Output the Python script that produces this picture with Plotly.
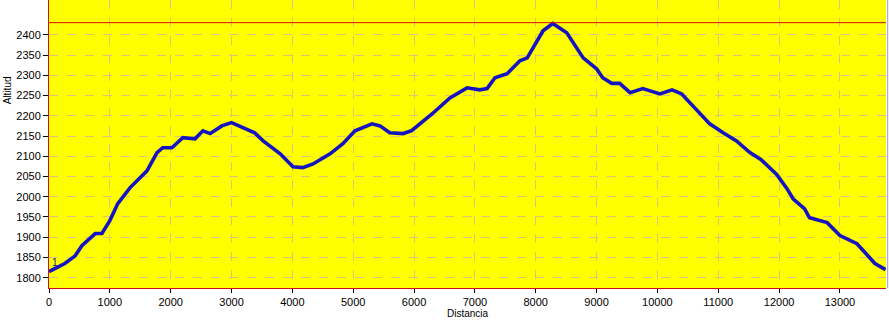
import plotly.graph_objects as go

distancia = [0, 260, 430, 540, 760, 870, 1000, 1130, 1330, 1500, 1610, 1775, 1870, 2020,
             2200, 2400, 2530, 2650, 2840, 3000, 3380, 3520, 3800, 4010, 4170, 4340, 4620,
             4830, 5030, 5310, 5440, 5600, 5820, 5960, 6300, 6590, 6870, 7080, 7200, 7330,
             7530, 7740, 7860, 8120, 8280, 8510, 8780, 9000, 9100, 9250, 9380, 9550, 9760,
             10040, 10240, 10400, 10650, 10860, 11080, 11300, 11520, 11700, 11960, 12130,
             12230, 12420, 12500, 12790, 13000, 13280, 13575, 13750]
altitud = [1815, 1835, 1854, 1879, 1909, 1909, 1941, 1983, 2022, 2047, 2064, 2109, 2121, 2121,
           2146, 2143, 2163, 2156, 2175, 2183, 2158, 2138, 2106, 2074, 2072, 2081, 2106,
           2131, 2163, 2180, 2175, 2158, 2156, 2163, 2205, 2244, 2269, 2264, 2267, 2294,
           2304, 2336, 2343, 2410, 2428, 2405, 2343, 2316, 2294, 2280, 2280, 2257, 2267,
           2254, 2264, 2254, 2212, 2180, 2158, 2138, 2109, 2092, 2055, 2020,
           1995, 1970, 1948, 1936, 1904, 1884, 1835, 1820]
x_ticks = list(range(0, 14000, 1000))
x_labels = [str(v) for v in x_ticks]
y_ticks = list(range(1800, 2450, 50))
y_labels = [str(v) for v in y_ticks]

grid_col = "rgb(218,196,120)"
font_fam = "Arial, Liberation Sans, sans-serif"

fig = go.Figure()
fig.add_trace(go.Scatter(x=distancia, y=altitud, mode="lines",
                         line=dict(color="#1414c0", width=3.6), hoverinfo="skip"))

max_alt = max(altitud) + 2
fig.add_shape(type="line", xref="paper", x0=0, x1=1, yref="y", y0=max_alt, y1=max_alt,
              line=dict(color="#d01010", width=1))

fig.add_annotation(x=distancia[0], y=altitud[0] + 22, text="1", showarrow=False,
                   xanchor="left", yanchor="middle", xshift=1,
                   font=dict(family=font_fam, size=10, color="#202080"))
fig.add_annotation(xref="paper", yref="paper", x=-0.050, y=0.687, xanchor="center",
                   yanchor="middle", text="Altitud", showarrow=False, textangle=-90,
                   font=dict(family=font_fam, size=10, color="black"))
fig.add_annotation(xref="paper", yref="paper", x=0.5, y=-0.087, yanchor="middle",
                   text="Distancia", showarrow=False,
                   font=dict(family=font_fam, size=10, color="black"))

fig.update_layout(
    width=889, height=320,
    margin=dict(l=49, r=3, t=0, b=32, autoexpand=False),
    paper_bgcolor="white", plot_bgcolor="#ffff00",
    showlegend=False,
    font=dict(family=font_fam, size=11, color="black"),
    xaxis=dict(range=[0, 13757], tickvals=x_ticks, ticktext=x_labels, ticks="outside",
               ticklen=4, tickcolor="black", showline=True, linecolor="#d01010",
               linewidth=1, showgrid=True, gridcolor=grid_col, griddash="dash",
               gridwidth=1, zeroline=False, tickfont=dict(size=11), automargin=False),
    yaxis=dict(range=[1774.5, 2486], tickvals=y_ticks, ticktext=y_labels, ticks="outside",
               ticklen=5, tickcolor="black", showline=True, linecolor="#d01010",
               linewidth=1, showgrid=True, gridcolor=grid_col, griddash="dash",
               gridwidth=1, zeroline=False, tickfont=dict(size=11), automargin=False),
)
fig.add_shape(type="line", xref="paper", yref="paper", x0=1.002, x1=1.002, y0=0, y1=1,
              line=dict(color="#a0a0a0", width=1))

fig.write_html("out.html", config={"displayModeBar": False},
               post_script="document.body.style.margin='0';document.body.style.padding='0';")
